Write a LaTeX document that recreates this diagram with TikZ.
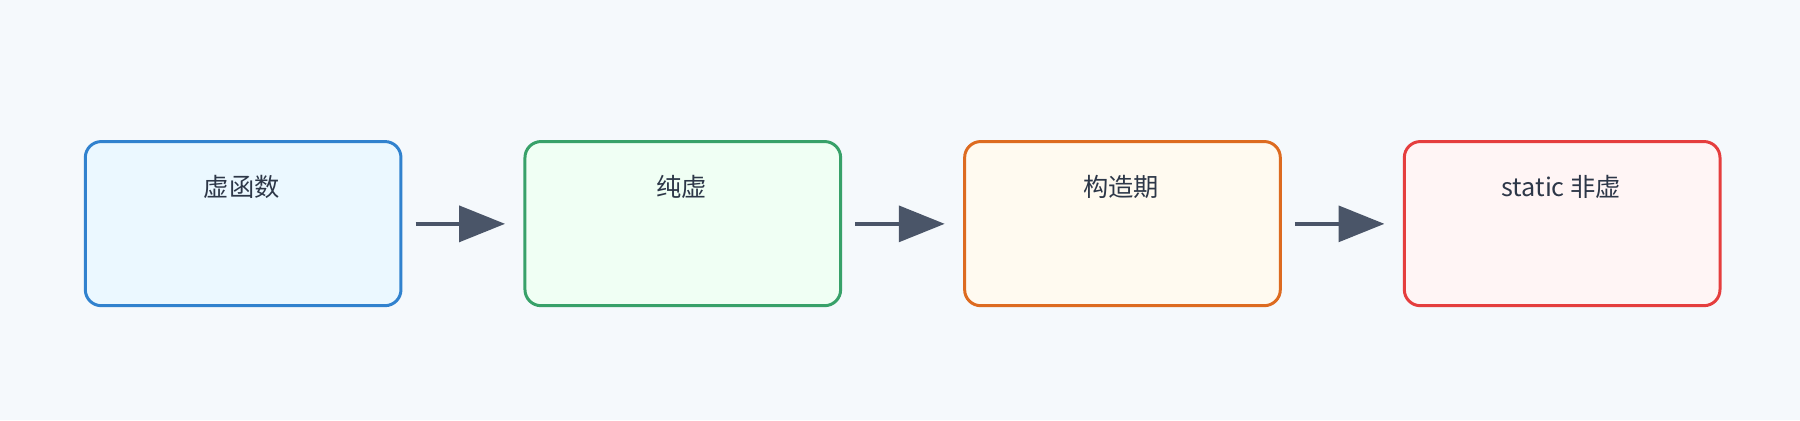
\documentclass[tikz,border=0pt]{standalone}
\usepackage{fontspec}
\setmainfont{Noto Sans CJK SC}
\usetikzlibrary{arrows.meta}
\definecolor{bg}{HTML}{F5F9FC}
\definecolor{txt}{HTML}{2D3748}
\definecolor{arr}{HTML}{4A5568}
\begin{document}
\begin{tikzpicture}[x=1pt,y=-1pt,
  box/.style={draw, line width=2.6pt, rounded corners=14pt, minimum width=275pt, minimum height=143pt, anchor=north west, inner sep=0pt},
  lab/.style={font=\fontsize{22}{26}\selectfont, text=txt, anchor=center},
  conn/.style={draw=arr, line width=4pt, -{Triangle[length=40pt,width=31pt]}, shorten >=0pt}]
\fill[bg] (0,0) rectangle (1568,366);
\useasboundingbox (0,0) rectangle (1568,366);
\node[box, draw=blue!60!cyan!70!black, draw={rgb,255:red,49;green,130;blue,206}, fill={rgb,255:red,235;green,248;blue,255}] (a) at (73,122) {};
\node[box, draw={rgb,255:red,56;green,161;blue,105}, fill={rgb,255:red,240;green,255;blue,244}] (b) at (456,122) {};
\node[box, draw={rgb,255:red,221;green,107;blue,32}, fill={rgb,255:red,255;green,250;blue,240}] (c) at (839,122) {};
\node[box, draw={rgb,255:red,229;green,62;blue,62}, fill={rgb,255:red,255;green,245;blue,245}] (d) at (1222,122) {};
\node[lab] (ta) at (210.5,163) {虚函数};
\node[lab] (tb) at (593.5,163) {纯虚};
\node[lab] (tc) at (976.5,163) {构造期};
\node[lab] (td) at (1360,163) {static 非虚};
\coordinate (a1) at (362,195); \coordinate (a2) at (440,195);
\coordinate (b1) at (745,195); \coordinate (b2) at (823,195);
\coordinate (c1) at (1128,195); \coordinate (c2) at (1206,195);
\draw[conn] (a1) -- (a2);
\draw[conn] (b1) -- (b2);
\draw[conn] (c1) -- (c2);
\end{tikzpicture}
\end{document}
